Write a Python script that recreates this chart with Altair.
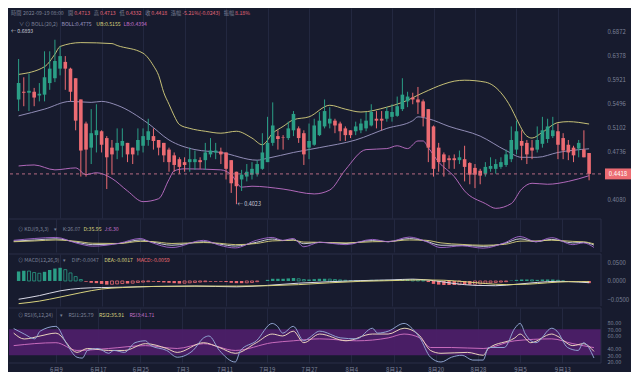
import altair as alt
import pandas as pd

# ---------------- data ----------------
N_DAYS = 111
dates = pd.date_range("2022-06-01", periods=N_DAYS, freq="D").strftime("%Y-%m-%d").tolist()

open_p = [.5562,.5696,.5679,.5696,.5629,.5645,.5851,.5939,.6118,.6247,.6118,.5939,.5562,.5163,.4792,.4981,.5041,.4936,.4792,.4749,
          .4820,.4863,.4792,.4749,.4820,.4907,.4966,.4907,.4863,.4763,.4679,.4624,.4582,.4582,.4582,.4610,.4610,.4693,.4721,.4735,
          .4721,.4610,.4448,.4343,.4382,.4408,.4421,.4488,.4582,.4863,.4966,.4951,.4936,.5056,.5086,.5011,.4792,.4835,.4981,.5117,
          .5163,.5209,.5163,.5086,.5056,.5041,.5056,.5086,.5132,.5240,.5240,.5240,.5271,.5287,.5398,.5529,.5595,.5562,.5529,.5398,
          .5117,.4792,.4693,.4637,.4637,.4610,.4624,.4569,.4501,.4461,.4421,.4488,.4488,.4515,.4542,.4624,.4763,.4892,.4863,.4792,
          .4763,.4849,.4922,.4966,.5041,.4936,.4835,.4792,.4778,.4763,.4713]
high_p = [.6303,.5957,.6028,.5764,.5851,.6455,.6455,.6690,.6552,.6360,.6136,.5939,.5562,.5193,.5398,.5480,.5056,.4966,.4907,.5086,
          .5086,.4863,.4792,.5086,.5086,.5240,.5086,.4907,.4863,.4792,.4721,.4651,.4651,.4792,.4749,.4651,.4863,.4936,.4863,.4792,
          .4721,.4610,.4448,.4474,.4555,.4582,.4610,.5011,.5271,.5512,.5056,.4981,.5193,.5366,.5117,.5056,.5163,.5240,.5350,.5562,
          .5431,.5240,.5193,.5117,.5056,.5193,.5240,.5350,.5480,.5366,.5366,.5431,.5480,.5612,.5939,.5696,.5679,.5781,.5562,.5398,
          .5132,.4863,.4721,.4679,.4693,.4749,.4820,.4582,.4555,.4488,.4582,.4651,.4624,.4651,.4763,.5117,.5209,.5056,.4907,.4907,
          .5117,.5271,.5240,.5271,.5163,.5011,.4907,.4820,.4907,.5056,.4713]
low_p = [.5366,.5447,.5366,.5447,.5529,.5529,.5730,.5868,.5992,.5730,.5529,.5056,.4382,.4382,.4555,.4721,.4721,.4216,.4408,.4624,
         .4651,.4582,.4555,.4679,.4721,.4820,.4763,.4679,.4582,.4448,.4448,.4421,.4448,.4448,.4474,.4488,.4474,.4651,.4624,.4555,
         .4343,.4166,.4023,.4191,.4317,.4343,.4382,.4474,.4582,.4820,.4763,.4763,.4907,.4966,.4863,.4542,.4624,.4820,.4966,.5086,
         .5086,.5011,.4892,.4892,.4936,.4981,.5011,.5041,.5117,.5086,.5056,.5193,.5193,.5271,.5366,.5431,.5480,.5318,.5117,.4582,
         .4382,.4448,.4382,.4488,.4488,.4555,.4317,.4279,.4228,.4279,.4382,.4448,.4421,.4488,.4515,.4582,.4693,.4610,.4555,.4624,
         .4721,.4792,.4863,.4936,.4624,.4624,.4610,.4582,.4651,.4651,.4332]
close_p = [.5851,.5679,.5713,.5595,.5662,.5957,.6118,.6265,.6360,.6118,.5696,.5209,.4749,.4763,.5011,.5056,.4835,.4651,.4693,.4863,
           .4892,.4693,.4693,.4907,.4966,.5041,.4892,.4792,.4679,.4582,.4542,.4515,.4542,.4624,.4624,.4582,.4721,.4749,.4749,.4693,
           .4488,.4292,.4253,.4408,.4448,.4488,.4555,.4721,.4863,.5132,.4922,.4944,.5086,.5318,.4936,.4693,.4892,.5132,.5209,.5366,
           .5240,.5132,.5041,.4981,.4981,.5117,.5163,.5209,.5350,.5209,.5209,.5366,.5350,.5447,.5645,.5612,.5562,.5512,.5271,.4792,
           .4488,.4582,.4582,.4610,.4610,.4651,.4515,.4408,.4408,.4395,.4515,.4528,.4555,.4582,.4693,.4907,.5041,.4820,.4693,.4749,
           .4907,.5056,.5117,.5056,.4835,.4749,.4721,.4679,.4863,.4651,.4418]

# Bollinger bands, read at day indices
boll_up_i = [0,5,7,8,12,18,19,24,26,27,28,29,30,31,33,36,39,42,45,47,49,51,53,56,60,63,66,71,74,78,82,84,86,90,93,95,96,98,99,101,104,106,110]
boll_up_v = [.6010,.6155,.6398,.6552,.6631,.6611,.6572,.6417,.6173,.5992,.5679,.5480,.5287,.5147,.5086,.5041,.5011,.5041,.4936,.4835,.5011,.5117,.5224,
             .5271,.5463,.5398,.5350,.5431,.5512,.5679,.5833,.5886,.5903,.5868,.5679,.5414,.5240,.4966,.4936,.5026,.5178,.5193,.5155]
boll_mid_i = [0,5,10,14,16,19,25,29,34,39,46,48,53,58,65,71,76,77,79,83,89,94,97,100,104,110]
boll_mid_v = [.5287,.5398,.5529,.5512,.5529,.5463,.5163,.4907,.4763,.4721,.4610,.4637,.4721,.4792,.4907,.5086,.5209,.5271,.5240,.5117,.4966,.4749,.4651,.4651,.4721,.4775]
boll_lo_i = [0,3,7,11,13,15,18,21,24,27,29,30,32,39,41,43,45,51,57,60,63,67,71,73,75,77,78,79,81,84,86,90,92,95,97,99,102,106,110]
boll_lo_v = [.4528,.4542,.4474,.4501,.4408,.4434,.4356,.4191,.4055,.4092,.4343,.4461,.4488,.4474,.4408,.4241,.4253,.4216,.4153,.4203,.4474,.4763,.4778,
             .4820,.4778,.4892,.4892,.4792,.4582,.4382,.4191,.4031,.3972,.4031,.4216,.4292,.4279,.4317,.4394]

# KDJ
kdj_i = [0,4,8,12,15,20,24,26,30,36,39,42,46,49,51,53,55,58,63,68,71,75,78,81,85,89,93,96,99,102,106,108,110]
k_v = [60,70,80,50,30,40,70,55,25,55,35,18,50,78,65,72,38,50,40,65,55,82,62,25,25,15,40,80,55,75,45,50,26.07]
d_v = [55,62,70,58,42,40,58,57,40,48,42,30,40,62,65,68,52,50,45,55,57,70,68,45,32,25,32,60,62,68,58,55,35.95]
j_v = [67,83,92,42,17,42,83,50,5,67,25,2,67,92,67,83,12,50,30,75,55,95,60,5,20,0,45,100,55,90,30,45,6.30]

# MACD (x 1e-3)
macd_hist = [26,28,27,23,21,25,30,34,36,31,22, 12,4,-2,-5,-6,-8,-10,-9,-8,-7, -7,-6,-4,-3,-2,-2,-3,-4,-5,-6,
             -7,-6,-5,-4,-3,-2,-2,-2,-2,-3, -5,-6,-6,-5,-4,-2,0,3,6,6, 6,7,8,6,4,4,5,6,6,5,
             4,3,2,2,2,2,2,3,3,3, 3,3,4,5,5,4,3,1,-3,-8, -10,-11,-11,-11,-10,-10,-10,-9,-8,-6,
             -5,-4,-3,-2,1,3,4,4,3,3, 4,4,4,2,0,-1,-2,-2,-3,-5.9]
dif_i = [0,4,8,12,16,20,26,34,42,48,54,60,66,72,76,80,84,88,92,96,100,104,108,110]
dif_v = [-50,-40,-27,-20,-18,-17,-15,-14,-16,-12,-6,-2,1,3,5,1,-7,-12,-13,-9,-4,-1,-3,-4.7]
dea_i = [0,4,8,12,16,20,26,34,42,48,54,60,66,72,78,82,86,90,94,98,102,106,110]
dea_v = [-62,-55,-44,-32,-22,-18,-15,-14,-14,-13,-10,-5,-1,1,3,2,-2,-7,-10,-9,-5,-2,-1.7]

# RSI
rsi1_i = [0,2,4,5,8,10,12,13,14,16,18,19,21,23,25,26,29,31,34,36,37,39,42,43,46,49,50,51,53,55,56,58,62,65,68,69,71,74,76,77,79,81,83,85,87,89,90,93,95,96,97,99,102,103,105,107,108,110]
rsi1_v = [71,62.6,55.2,67,74.4,48,27,25.6,37.4,40.4,33,37.4,34.4,49.3,52.2,44.8,37.4,27,37.4,56.7,59.6,37.4,19.6,37.4,52.2,78.9,74.4,64,74.4,52.2,56.7,67,56.7,55.2,71.5,64,67,78.9,67,56.7,27,19.6,27,30,22.6,22.6,41.9,41.9,71.5,78.9,62.6,49.3,71.5,67,41.9,37.4,49.3,25.79]
rsi2_i = [0,2,5,8,12,14,18,21,25,29,31,36,39,42,46,49,51,53,55,58,63,68,71,74,77,79,81,86,89,90,95,96,98,102,103,106,108,110]
rsi2_v = [64,55,59.6,64,34.4,40.4,37.4,37.4,47.8,40.4,34.4,49.3,41.9,33,49.3,62.6,59.6,67,49.3,62.6,52.2,62.6,62.6,71.5,59.6,37.4,33,34.4,30,40.4,56.7,62.6,49.3,62.6,59.6,44.8,47.8,35.91]
rsi3_i = [0,8,12,18,25,31,36,42,49,53,58,65,71,74,77,79,83,89,95,102,106,110]
rsi3_v = [44.8,49.3,37.4,40.4,44.8,40.4,47.8,37.4,49.3,52.2,55.2,52.2,56.7,62.6,56.7,41.9,41.9,40.4,52.2,55.2,47.8,41.71]

tick_dates = ["2022-06-09","2022-06-17","2022-06-25","2022-07-03","2022-07-11","2022-07-19","2022-07-27",
              "2022-08-04","2022-08-12","2022-08-20","2022-08-28","2022-09-05","2022-09-13"]
price_ticks = [0.4080, 0.4736, 0.5102, 0.5496, 0.5921, 0.6378, 0.6872]
macd_ticks = [-0.05, 0.0, 0.05]
rsi_ticks = [20, 30, 40, 60, 70, 80]

# ---------------- style ----------------
W = 592
H_MAIN, H_KDJ, H_MACD, H_RSI = 210, 33, 52, 55
BG = "#171b2e"
GRID = "#232840"
SEP = "#2a2f47"
TXT = "#7b8197"
UP = "#2b9e86"
DOWN = "#ec6b72"
YEL = "#d8d27e"
PINK = "#c070c8"
LAV = "#9d98c4"
RED_T = "#e4677a"
FONT = "Noto Sans CJK TC"


def dt(s, h=0, m=0):
    y, mo, d = (int(p) for p in s.split("-"))
    return alt.DateTime(year=y, month=mo, date=d, hours=h, minutes=m, utc=True)


xdom = [dt("2022-05-31", 2, 40), dt("2022-09-20", 8, 0)]
tick_vals = [dt(s) for s in tick_dates]


def X(show=False):
    return alt.X("date:T", title=None,
                 scale=alt.Scale(type="utc", domain=xdom),
                 axis=alt.Axis(values=tick_vals, format="%-m月%-d", labels=show, ticks=False,
                               domain=False, grid=True, gridColor=GRID, gridWidth=1,
                               labelColor=TXT, labelFontSize=6, labelFont=FONT,
                               labelPadding=3, minExtent=0, labelOverlap=False))


def sparse(idx, vals, scale=1.0):
    return pd.DataFrame({"date": [dates[i] for i in idx], "v": [v * scale for v in vals]})


def text_w(t, size):
    w = 0.0
    for ch in t:
        if ord(ch) >= 0x2E80:
            w += size
        elif ch in ".:,":
            w += 0.28 * size
        elif ch in "-()":
            w += 0.36 * size
        elif ch == " ":
            w += 0.28 * size
        elif ch == "%":
            w += 0.82 * size
        elif ch.isupper():
            w += 0.64 * size
        else:
            w += 0.56 * size
    return w


def flow(segs, x0, y, size):
    """segs: (text, color, gap_after)"""
    out = []
    x = x0
    for t, c, gap in segs:
        out.append(alt.Chart(pd.DataFrame({"t": [t]})).mark_text(
            align="left", baseline="middle", fontSize=size, font=FONT, color=c
        ).encode(x=alt.value(x), y=alt.value(y), text="t:N"))
        x += text_w(t, size) + gap
    return out


def rules(h, top=True, bottom=False):
    out = []
    base = alt.Chart(pd.DataFrame({"a": [0]}))
    if top:
        out.append(base.mark_rule(color=SEP, strokeWidth=1).encode(y=alt.value(0)))
    if bottom:
        out.append(base.mark_rule(color=SEP, strokeWidth=1).encode(y=alt.value(h)))
    out.append(base.mark_rule(color=SEP, strokeWidth=1).encode(
        x=alt.value(W), y=alt.value(0), y2=alt.value(h)))
    return out


# ---------------- main panel ----------------
candles = pd.DataFrame({"date": dates, "open": open_p, "high": high_p, "low": low_p, "close": close_p})
candles["dir"] = ["up" if c >= o else "down" for o, c in zip(open_p, close_p)]

yscale = alt.Scale(type="log", domain=[0.3855, 0.738], nice=False, zero=False)
yaxis = alt.Axis(orient="right", values=price_ticks, format=".4f", grid=False, ticks=False,
                 domain=False, labelColor=TXT, labelFontSize=6, labelFont=FONT,
                 labelPadding=6, minExtent=30, maxExtent=30, labelOverlap=False)


def YM(field):
    return alt.Y(field, type="quantitative", scale=yscale, axis=yaxis, title=None)


cmap = alt.Color("dir:N", scale=alt.Scale(domain=["up", "down"], range=[UP, DOWN]), legend=None)

band_layers = []
for idx, vals, col in [(boll_up_i, boll_up_v, YEL), (boll_mid_i, boll_mid_v, LAV), (boll_lo_i, boll_lo_v, PINK)]:
    band_layers.append(alt.Chart(sparse(idx, vals)).mark_line(
        color=col, strokeWidth=1, interpolate="monotone", opacity=0.9
    ).encode(x=X(), y=YM("v")))

wicks = alt.Chart(candles).mark_rule(strokeWidth=1).encode(x=X(), y=YM("low"), y2="high:Q", color=cmap)
bodies = alt.Chart(candles).mark_bar(size=3.6, minBandSize=1).encode(x=X(), y=YM("open"), y2="close:Q", color=cmap)

last = close_p[-1]
last_df = pd.DataFrame({"v": [last]})
cur_line = alt.Chart(last_df).mark_rule(color="#b56a82", strokeDash=[3, 3], strokeWidth=1).encode(y=YM("v"))
box = alt.Chart(last_df).mark_point(
    shape="M-1,-0.42L1,-0.42L1,0.42L-1,0.42Z", size=676, filled=True, opacity=1, color=DOWN, strokeWidth=0
).encode(x=alt.value(W + 17), y=YM("v"))
box_txt = alt.Chart(pd.DataFrame({"v": [last], "t": [f"{last:.4f}"]})).mark_text(
    color="white", fontSize=6, font=FONT, align="center", baseline="middle"
).encode(x=alt.value(W + 17), y=YM("v"), text="t:N")

imin = low_p.index(min(low_p))
low_df = pd.DataFrame({"date": [dates[imin]], "v": [low_p[imin]], "t": [f"← {low_p[imin]:.4f}"]})
low_txt = alt.Chart(low_df).mark_text(align="left", baseline="middle", dx=1, fontSize=5.5, font=FONT, color="#c8cad8").encode(
    x=X(), y=YM("v"), text="t:N")

hdr1 = flow([("時間", TXT, 1.5), ("2022-09-19 08:00", TXT, 3.5),
             ("開", TXT, 1.0), ("0.4713", RED_T, 3.5), ("高", TXT, 1.0), ("0.4713", RED_T, 3.5),
             ("低", TXT, 1.0), ("0.4332", RED_T, 3.5), ("收", TXT, 1.0), ("0.4418", RED_T, 3.5),
             ("漲幅", TXT, 1.0), ("-5.21%(-0.0243)", RED_T, 3.5), ("振幅", TXT, 1.0), ("8.18%", RED_T, 0)],
            2, 5, 5.2)
hdr2 = flow([("∨", TXT, 3), ("⊙ BOLL(20,2)", TXT, 5), ("BOLL:0.4775", LAV, 4),
             ("UB:0.5155", YEL, 3), ("LB:0.4394", PINK, 0)], 10, 16, 5.2)
hdr3 = flow([("← 0.6893", "#c8cad8", 0)], 2, 22.5, 5.2)

main = alt.layer(*band_layers, wicks, bodies, cur_line, box, box_txt, low_txt, *hdr1, *hdr2, *hdr3).properties(
    width=W, height=H_MAIN)

# ---------------- KDJ ----------------
kscale = alt.Scale(domain=[-33, 250], nice=False, zero=False)
kdj_layers = []
for vals, col in [(k_v, "#d9d9e6"), (d_v, YEL), (j_v, "#a569d0")]:
    kdj_layers.append(alt.Chart(sparse(kdj_i, vals)).mark_line(
        color=col, strokeWidth=1, interpolate="monotone", opacity=0.9
    ).encode(x=X(), y=alt.Y("v:Q", scale=kscale, axis=None)))
kdj_hdr = flow([("⊙ KDJ(9,3,3)", TXT, 6), ("▾", TXT, 6), ("K:26.07", TXT, 3),
                ("D:35.95", YEL, 3), ("J:6.30", PINK, 0)], 9, 9.5, 5.2)
kdj = alt.layer(*rules(H_KDJ), *kdj_layers, *kdj_hdr).properties(width=W, height=H_KDJ)

# ---------------- MACD ----------------
mscale = alt.Scale(domain=[-0.0684, 0.0737], nice=False, zero=False)
maxis = alt.Axis(orient="right", values=macd_ticks, format=".4f", grid=False, ticks=False, domain=False,
                 labelColor=TXT, labelFontSize=6, labelFont=FONT, labelPadding=6,
                 minExtent=30, maxExtent=30, labelOverlap=False)
hist = pd.DataFrame({"date": dates, "v": [h / 1000 for h in macd_hist]})
style = []
for k, h in enumerate(macd_hist):
    prev = macd_hist[k - 1] if k > 0 else h
    grow = (h >= prev) if h >= 0 else (h <= prev)
    style.append(("g" if h >= 0 else "r") + ("f" if grow else "h"))
hist["s"] = style


def YMa(field="v"):
    return alt.Y(field, type="quantitative", scale=mscale, axis=maxis, title=None)


hist_layers = []
for key, col, filled in [("gf", UP, True), ("gh", UP, False), ("rf", DOWN, True), ("rh", DOWN, False)]:
    mk = alt.Chart(hist).transform_filter(alt.datum.s == key)
    if filled:
        m = mk.mark_bar(size=3.4, color=col)
    else:
        m = mk.mark_bar(size=3.0, fill=BG, fillOpacity=1, stroke=col, strokeWidth=0.8)
    hist_layers.append(m.encode(x=X(), y=YMa(), y2=alt.datum(0)))
macd_lines = [
    alt.Chart(sparse(dif_i, dif_v, 0.001)).mark_line(color="#d9d9e6", strokeWidth=1, interpolate="monotone").encode(x=X(), y=YMa()),
    alt.Chart(sparse(dea_i, dea_v, 0.001)).mark_line(color=YEL, strokeWidth=1, interpolate="monotone").encode(x=X(), y=YMa()),
]
macd_hdr = flow([("⊙ MACD(12,26,9)", TXT, 6), ("▾", TXT, 6), ("DIF:-0.0047", TXT, 3),
                 ("DEA:-0.0017", YEL, 3), ("MACD:-0.0059", DOWN, 0)], 9, 6, 5.2)
macd = alt.layer(*rules(H_MACD), *hist_layers, *macd_lines, *macd_hdr).properties(width=W, height=H_MACD)

# ---------------- RSI ----------------
rscale = alt.Scale(domain=[18.1, 102.6], nice=False, zero=False)
raxis = alt.Axis(orient="right", values=rsi_ticks, format=".2f", grid=False, ticks=False, domain=False,
                 labelColor=TXT, labelFontSize=5.5, labelFont=FONT, labelPadding=6,
                 minExtent=30, maxExtent=30, labelOverlap=False)
band = alt.Chart(pd.DataFrame({"a": [70], "b": [30]})).mark_rect(color="#4c1f68", opacity=0.95).encode(
    x=alt.value(0), x2=alt.value(W), y=alt.Y("a:Q", scale=rscale, axis=raxis, title=None), y2="b:Q")
rsi_lines = []
for idx, vals, col in [(rsi3_i, rsi3_v, "#cc6fc0"), (rsi2_i, rsi2_v, "#f0dcc0"), (rsi1_i, rsi1_v, "#93a9d6")]:
    rsi_lines.append(alt.Chart(sparse(idx, vals)).mark_line(
        color=col, strokeWidth=1, interpolate="monotone", opacity=0.95
    ).encode(x=X(True), y=alt.Y("v:Q", scale=rscale, axis=raxis, title=None)))
rsi_hdr = flow([("⊙ RSI(6,12,24)", TXT, 6), ("▾", TXT, 6), ("RSI1:25.79", TXT, 3),
                ("RSI2:35.91", YEL, 3), ("RSI3:41.71", PINK, 0)], 9, 7, 5.2)
rsi = alt.layer(band, *rules(H_RSI, True, True), *rsi_lines, *rsi_hdr).properties(width=W, height=H_RSI)

chart = alt.vconcat(main, kdj, macd, rsi, spacing=0).properties(
    padding={"left": 0, "top": 0, "right": 0, "bottom": 0}
).configure(background=BG).configure_view(stroke=None)

chart.save("out.html", embed_options={"renderer": "svg", "actions": False})
